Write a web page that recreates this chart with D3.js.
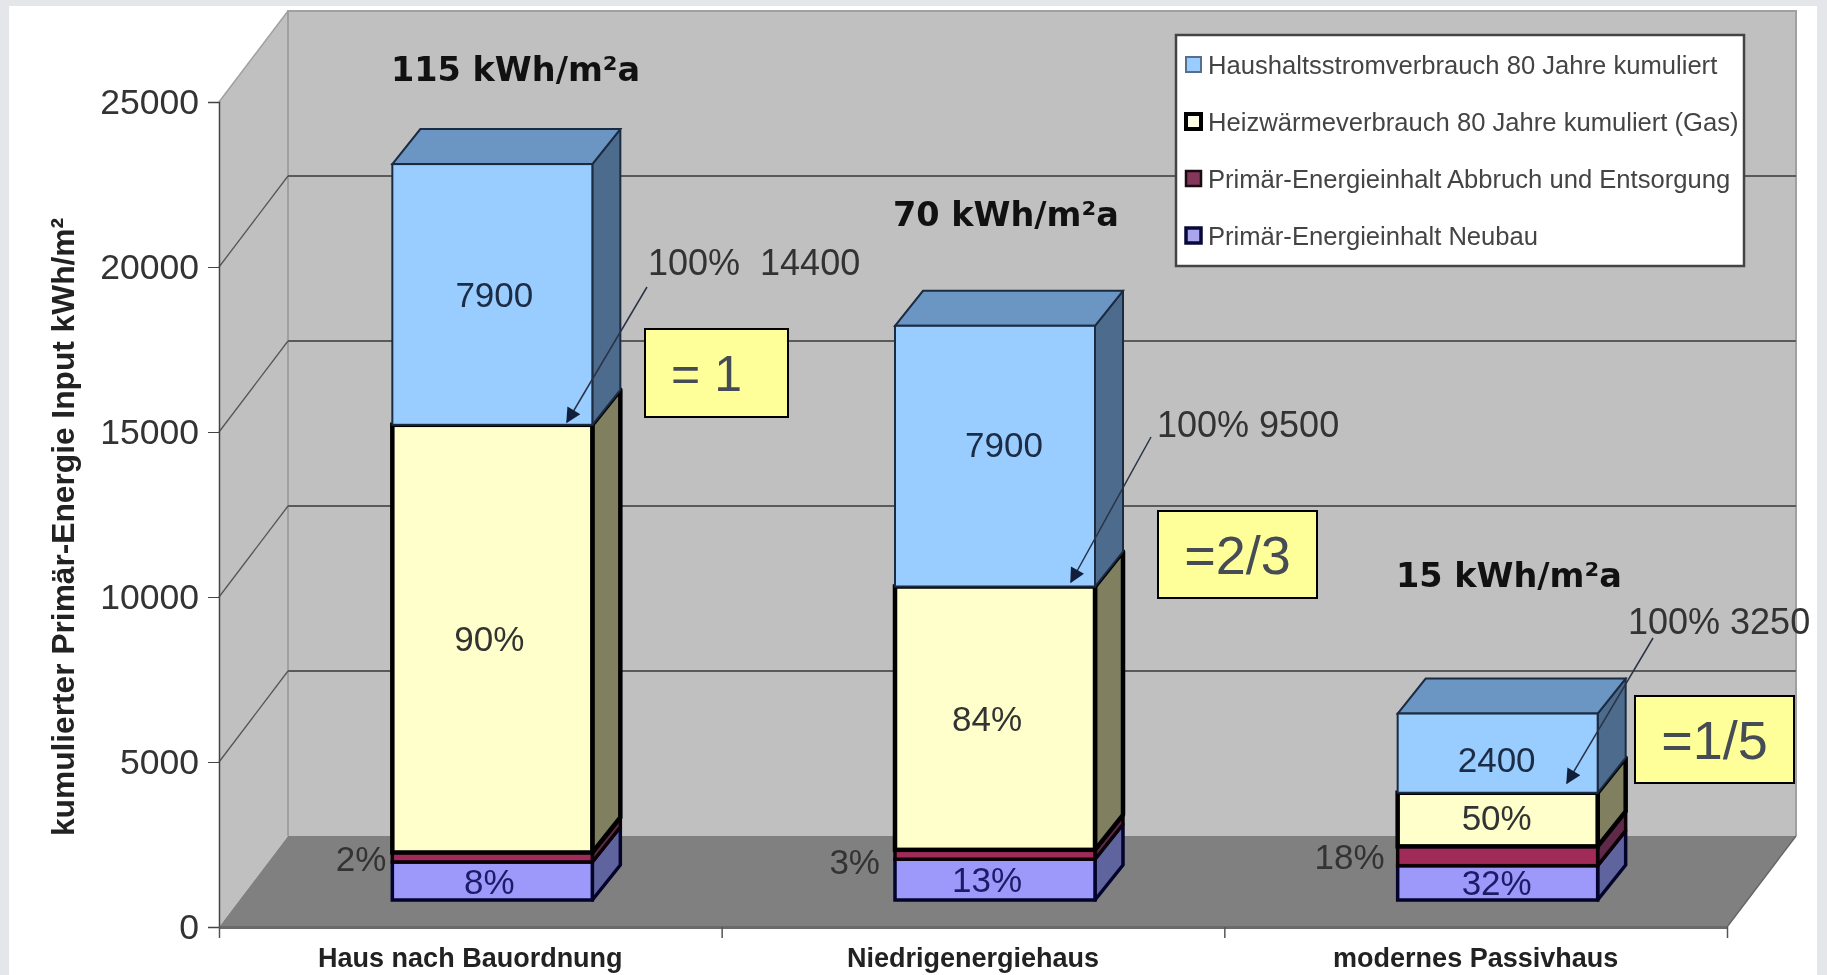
<!DOCTYPE html>
<html>
<head>
<meta charset="utf-8">
<title>Primär-Energie Input</title>
<style>
html, body { margin: 0; padding: 0; background: #e4e6e9; overflow: hidden; }
svg { display: block; filter: blur(0.5px); }
text { font-family: "Liberation Sans", Arial, sans-serif; }
.tick text { fill: #333; }
</style>
</head>
<body>
<svg id="chart"></svg>
<script src="https://cdnjs.cloudflare.com/ajax/libs/d3/7.8.5/d3.min.js"></script>
<script>
var categories = ['Haus nach Bauordnung', 'Niedrigenergiehaus', 'modernes Passivhaus'];
var seriesNames = [
  'Primär-Energieinhalt Neubau',
  'Primär-Energieinhalt Abbruch und Entsorgung',
  'Heizwärmeverbrauch 80 Jahre kumuliert (Gas)',
  'Haushaltsstromverbrauch 80 Jahre kumuliert'
];
var neubau = [1152, 1235, 1040];
var abbruch = [288, 285, 585];
var heizwaerme = [12960, 7980, 1625];
var haushaltsstrom = [7900, 7900, 2400];

var neubauLabels = ['8%', '13%', '32%'];
var abbruchLabels = ['2%', '3%', '18%'];
var heizwaermeLabels = ['90%', '84%', '50%'];
var haushaltsstromLabels = ['7900', '7900', '2400'];
var standardLabels = ['115 kWh/m²a', '70 kWh/m²a', '15 kWh/m²a'];
var totalLabels = ['100%  14400', '100% 9500', '100% 3250'];
var ratioLabels = ['= 1', '=2/3', '=1/5'];
var yTicks = [0, 5000, 10000, 15000, 20000, 25000];

var series = [neubau, abbruch, heizwaerme, haushaltsstrom];
var seriesLabels = [neubauLabels, abbruchLabels, heizwaermeLabels, haushaltsstromLabels];
var styles = [
  { front: '#9c99fb', side: '#5f649f', stroke: '#03032b', sw: 3.5 },
  { front: '#a02a58', side: '#5e2a48', stroke: '#0a0006', sw: 3.5 },
  { front: '#ffffcc', side: '#808060', stroke: '#000', sw: 4.5 },
  { front: '#99ccff', side: '#4d6b8c', top: '#6b95c3', stroke: '#1a2b42', sw: 2 }
];
var legendSwatches = [
  { fill: '#aaa6ee', stroke: '#08083a', sw: 3.5 },
  { fill: '#83375a', stroke: '#1a0a12', sw: 2.5 },
  { fill: '#fdfde8', stroke: '#000', sw: 4 },
  { fill: '#99ccff', stroke: '#56708c', sw: 2 }
];

var W = 1827, H = 975;
var left = 219, right = 1727, y0 = 927, y25 = 102;
var wallDx = 69, wallDy = 91;     // wall depth
var barDx = 28, barDy = 35;       // bar depth
var barLift = 27, barShift = 22, barW = 200;  // bars stand in the middle of the floor

var svg = d3.select('#chart').attr('width', W).attr('height', H);
svg.append('rect').attr('x', 9).attr('y', 6).attr('width', 1808).attr('height', H).attr('fill', '#fff');

var x = d3.scaleBand().domain(categories).range([left, right]);
var xEdges = d3.scaleLinear().domain([0, categories.length]).range([left, right]);
var y = d3.scaleLinear().domain([0, 25000]).range([y0, y25]);

function pts(a) { return a.map(function (p) { return p.join(','); }).join(' '); }

// walls and floor
svg.append('polygon').attr('fill', '#c0c0c0')
  .attr('points', pts([[left, y(0)], [left + wallDx, y(0) - wallDy], [left + wallDx, y(25000) - wallDy], [left, y(25000)]]));
svg.append('rect').attr('fill', '#c0c0c0')
  .attr('x', left + wallDx).attr('y', y(25000) - wallDy)
  .attr('width', right - left).attr('height', y(0) - y(25000));
svg.append('polygon').attr('fill', '#808080')
  .attr('points', pts([[left, y(0)], [left + wallDx, y(0) - wallDy], [right + wallDx, y(0) - wallDy], [right, y(0)]]));

svg.append('path').attr('fill', 'none').attr('stroke', '#a0a0a0').attr('stroke-width', 2)
  .attr('d', 'M' + (left + wallDx) + ',' + (y(0) - wallDy) + 'V' + (y(25000) - wallDy) + 'H' + (right + wallDx) + 'V' + (y(0) - wallDy));
svg.append('path').attr('fill', 'none').attr('stroke', '#666').attr('stroke-width', 1.5)
  .attr('d', 'M' + right + ',' + y(0) + 'L' + (right + wallDx) + ',' + (y(0) - wallDy));

// gridlines
var gridG = svg.append('g');
yTicks.filter(function (d) { return d > 0 && d < 25000; }).forEach(function (d) {
  gridG.append('line')
    .attr('x1', left).attr('y1', y(d)).attr('x2', left + wallDx).attr('y2', y(d) - wallDy)
    .attr('stroke', '#555').attr('stroke-width', 1.3);
  gridG.append('line')
    .attr('x1', left + wallDx).attr('y1', y(d) - wallDy).attr('x2', right + wallDx).attr('y2', y(d) - wallDy)
    .attr('stroke', '#5a5a5a').attr('stroke-width', 2);
});
svg.append('line').attr('x1', left).attr('y1', y(25000)).attr('x2', left + wallDx).attr('y2', y(25000) - wallDy)
  .attr('stroke', '#a0a0a0').attr('stroke-width', 1.5);

// axes
var yAxis = d3.axisLeft(y).tickValues(yTicks).tickFormat(d3.format('d')).tickSize(11).tickPadding(9);
var yG = svg.append('g').attr('transform', 'translate(' + left + ',0)').call(yAxis);
yG.selectAll('text').style('font-size', '35.5px');
yG.selectAll('line').attr('stroke', '#444');
yG.select('.domain').attr('stroke', '#444').attr('stroke-width', 1.5);

var edgeAxis = d3.axisBottom(xEdges).tickValues(d3.range(categories.length + 1)).tickFormat('').tickSize(11).tickSizeOuter(0);
var edgeG = svg.append('g').attr('transform', 'translate(0,' + y0 + ')').call(edgeAxis);
edgeG.selectAll('line').attr('stroke', '#555').attr('stroke-width', 1.5);
edgeG.select('.domain').attr('stroke', '#6a6a6a').attr('stroke-width', 3);

var catAxis = d3.axisBottom(x).tickSize(0).tickPadding(21);
var catG = svg.append('g').attr('transform', 'translate(0,' + y0 + ')').call(catAxis);
catG.select('.domain').remove();
catG.selectAll('text').style('font-size', '27px').style('font-weight', 'bold').style('fill', '#222');

svg.append('text')
  .attr('transform', 'translate(74,527) rotate(-90)')
  .attr('text-anchor', 'middle')
  .style('font-size', '31.7px').style('font-weight', 'bold').style('fill', '#222')
  .text('kumulierter Primär-Energie Input kWh/m²');

// stacked bars, bottom segment first
function barLeft(c) { return x(c) + x.bandwidth() / 2 + barShift - barW / 2; }
function yBar(v) { return y(v) - barLift; }

var stacks = categories.map(function (c, i) {
  var sum = 0;
  return series.map(function (s, k) {
    var seg = { cat: c, index: i, k: k, from: sum, to: sum + s[i] };
    sum += s[i];
    return seg;
  });
});

var barG = svg.selectAll('g.bar').data(stacks).enter().append('g').attr('class', 'bar');

var segG = barG.selectAll('g').data(function (d) { return d; }).enter().append('g');

segG.append('polygon')
  .attr('points', function (d) {
    var xr = barLeft(d.cat) + barW;
    return pts([[xr, yBar(d.from)], [xr + barDx, yBar(d.from) - barDy], [xr + barDx, yBar(d.to) - barDy], [xr, yBar(d.to)]]);
  })
  .attr('fill', function (d) { return styles[d.k].side; })
  .attr('stroke', function (d) { return styles[d.k].stroke; })
  .attr('stroke-width', function (d) { return styles[d.k].sw; })
  .attr('stroke-linejoin', 'round');

segG.filter(function (d) { return d.k === series.length - 1; }).append('polygon')
  .attr('points', function (d) {
    var xl = barLeft(d.cat);
    return pts([[xl, yBar(d.to)], [xl + barDx, yBar(d.to) - barDy], [xl + barW + barDx, yBar(d.to) - barDy], [xl + barW, yBar(d.to)]]);
  })
  .attr('fill', function (d) { return styles[d.k].top; })
  .attr('stroke', function (d) { return styles[d.k].stroke; })
  .attr('stroke-width', function (d) { return styles[d.k].sw; });

segG.append('rect')
  .attr('x', function (d) { return barLeft(d.cat); })
  .attr('y', function (d) { return yBar(d.to); })
  .attr('width', barW)
  .attr('height', function (d) { return yBar(d.from) - yBar(d.to); })
  .attr('fill', function (d) { return styles[d.k].front; })
  .attr('stroke', function (d) { return styles[d.k].stroke; })
  .attr('stroke-width', function (d) { return styles[d.k].sw; });

// labels inside the segments (the Abbruch label sits left of the bar)
var labelNudge = [[-3, 0], [-8, 0], [-1, 0]];
var labelColors = ['#1b1b66', '#333', '#333', '#1c2c44'];
var abbruchGap = [6, 15, 13];
var abbruchDrop = [1, 7, 0];
segG.append('text')
  .attr('text-anchor', function (d) { return d.k === 1 ? 'end' : 'middle'; })
  .attr('dy', '0.36em')
  .attr('x', function (d) {
    if (d.k === 1) return barLeft(d.cat) - abbruchGap[d.index];
    var n = (d.k === 3 && d.index === 0) ? 2 : (d.k === 3 && d.index === 1) ? 9 : labelNudge[d.index][0];
    return barLeft(d.cat) + barW / 2 + n;
  })
  .attr('y', function (d) {
    var base = yBar((d.from + d.to) / 2);
    if (d.k === 3 && d.index === 1) return base - 12;
    if (d.k === 3 && d.index === 2) return base + 6;
    if (d.k === 2 && d.index === 2) return base - 2;
    return d.k === 1 ? base + abbruchDrop[d.index] : base;
  })
  .style('font-size', '35px')
  .style('fill', function (d) { return d.k === 1 ? '#333' : labelColors[d.k]; })
  .text(function (d) { return seriesLabels[d.k][d.index]; });

// kWh/m²a headings
var headingX = [391, 893, 1396];
var headingY = [81, 226, 587];
svg.selectAll('text.heading').data(standardLabels).enter().append('text')
  .attr('class', 'heading')
  .attr('x', function (d, i) { return headingX[i]; })
  .attr('y', function (d, i) { return headingY[i]; })
  .style('font-family', '"DejaVu Sans", sans-serif')
  .style('font-size', '33.5px').style('font-weight', 'bold').style('fill', '#111')
  .text(function (d) { return d; });

// callouts with arrows
svg.append('defs').append('marker')
  .attr('id', 'head').attr('viewBox', '0 0 10 10').attr('refX', 9).attr('refY', 5)
  .attr('markerUnits', 'userSpaceOnUse').attr('markerWidth', 17).attr('markerHeight', 15).attr('orient', 'auto')
  .append('path').attr('d', 'M0,0L10,5L0,10Z').attr('fill', '#10203c');

var calloutText = [[648, 275], [1157, 437], [1628, 634]];
var calloutArrow = [[647, 287, 567, 422], [1151, 437, 1071, 582], [1653, 638, 1567, 783]];
svg.selectAll('text.total').data(totalLabels).enter().append('text')
  .attr('class', 'total')
  .attr('x', function (d, i) { return calloutText[i][0]; })
  .attr('y', function (d, i) { return calloutText[i][1]; })
  .attr('xml:space', 'preserve')
  .style('white-space', 'pre')
  .style('font-size', '36px').style('fill', '#333')
  .text(function (d) { return d; });
svg.selectAll('line.arrow').data(calloutArrow).enter().append('line')
  .attr('class', 'arrow')
  .attr('x1', function (d) { return d[0]; }).attr('y1', function (d) { return d[1]; })
  .attr('x2', function (d) { return d[2]; }).attr('y2', function (d) { return d[3]; })
  .attr('stroke', '#2a3346').attr('stroke-width', 1.5)
  .attr('marker-end', 'url(#head)');

// yellow ratio boxes
var boxes = [[645, 329, 143, 88, 50, -10], [1158, 511, 159, 87, 54, 0], [1635, 696, 159, 87, 54, 0]];
var boxG = svg.selectAll('g.ratio').data(ratioLabels).enter().append('g').attr('class', 'ratio');
boxG.append('rect')
  .attr('x', function (d, i) { return boxes[i][0]; })
  .attr('y', function (d, i) { return boxes[i][1]; })
  .attr('width', function (d, i) { return boxes[i][2]; })
  .attr('height', function (d, i) { return boxes[i][3]; })
  .attr('fill', '#ffff99').attr('stroke', '#000').attr('stroke-width', 2);
boxG.append('text')
  .attr('x', function (d, i) { return boxes[i][0] + boxes[i][2] / 2 + boxes[i][5]; })
  .attr('y', function (d, i) { return boxes[i][1] + boxes[i][3] / 2; })
  .attr('dy', '0.36em').attr('text-anchor', 'middle')
  .style('font-size', function (d, i) { return boxes[i][4] + 'px'; })
  .style('fill', '#454c55')
  .text(function (d) { return d; });

// legend, top entry is the top segment
var legend = svg.append('g').attr('transform', 'translate(1176,35)');
legend.append('rect').attr('width', 568).attr('height', 231)
  .attr('fill', '#fff').attr('stroke', '#444').attr('stroke-width', 2.5);
var legendRow = d3.scalePoint().domain(d3.range(4)).range([30, 201]);
var row = legend.selectAll('g').data(seriesNames.slice().reverse()).enter().append('g')
  .attr('transform', function (d, i) { return 'translate(0,' + legendRow(i) + ')'; });
row.append('rect')
  .attr('x', 10).attr('y', -8).attr('width', 15).attr('height', 15)
  .attr('fill', function (d, i) { return legendSwatches[3 - i].fill; })
  .attr('stroke', function (d, i) { return legendSwatches[3 - i].stroke; })
  .attr('stroke-width', function (d, i) { return legendSwatches[3 - i].sw; });
row.append('text')
  .attr('x', 32).attr('dy', '0.36em')
  .style('font-size', '25.6px').style('fill', '#444')
  .text(function (d) { return d; });
</script>
</body>
</html>
